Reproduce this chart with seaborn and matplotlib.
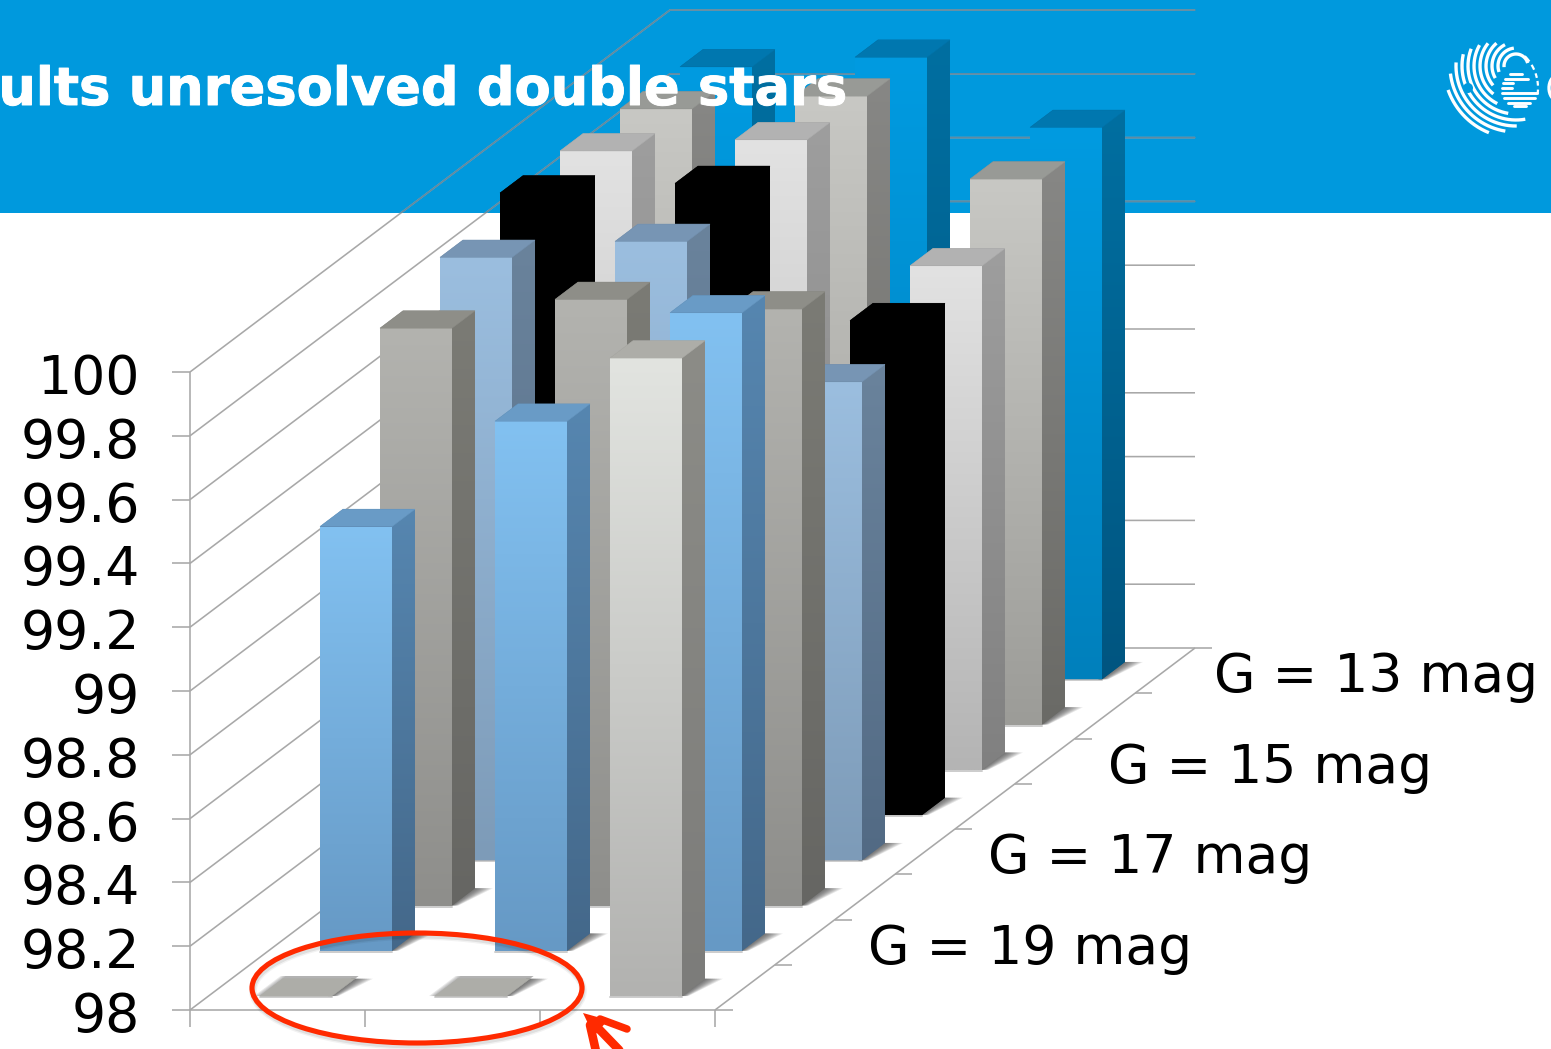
import numpy as np
import pandas as pd
import matplotlib
matplotlib.use("Agg")
import matplotlib.pyplot as plt
import matplotlib.patheffects as pe
from matplotlib.patches import Ellipse, Polygon, Rectangle
from matplotlib.colors import LinearSegmentedColormap
import seaborn as sns

# Completeness per magnitude (rows) and separation column, front row first
columns = ["a", "b", "c"]
row_names = ["19 grey", "19 blue", "17 grey", "17 blue", "15 black", "15 white", "13 grey", "13 blue"]
col_a = [98.00, 99.33, 99.81, 99.89, 99.95, 99.94, 99.93, 99.92]
col_b = [98.00, 99.66, 99.90, 99.94, 99.98, 99.975, 99.97, 99.95]
col_c = [100.0, 100.0, 99.87, 99.50, 99.55, 99.58, 99.71, 99.73]

value_ticks = [98, 98.2, 98.4, 98.6, 98.8, 99, 99.2, 99.4, 99.6, 99.8, 100]
value_labels = ["98", "98.2", "98.4", "98.6", "98.8", "99", "99.2", "99.4", "99.6", "99.8", "100"]
mag_labels = ["G = 19 mag", "G = 17 mag", "G = 15 mag", "G = 13 mag"]
mag_label_shift = [0, 0, 0, -14]
title = "ults unresolved double stars"

# Face colours per row: front top, front bottom, side top, side bottom, cap
row_colors = {
    "19 grey": ("#e2e4e0", "#b2b2b0", "#8c8c87", "#7c7c7a", "#adada8"),
    "19 blue": ("#82c1f1", "#6699c5", "#5686b0", "#44688a", "#699bc6"),
    "17 grey": ("#b3b3af", "#8e8e8b", "#7b7b75", "#666663", "#8e8e88"),
    "17 blue": ("#9bbedf", "#7d9bb8", "#6a839c", "#526a84", "#7795b4"),
    "15 black": ("#000000", "#000000", "#000000", "#000000", "#000000"),
    "15 white": ("#e2e2e2", "#b4b4b4", "#9e9e9e", "#808080", "#b2b2b2"),
    "13 grey": ("#c8c8c4", "#9c9c98", "#878785", "#6a6a66", "#989a96"),
    "13 blue": ("#009be1", "#0080bc", "#006fa1", "#005580", "#0077af"),
}

banner_blue = "#0099dd"
grid_grey = "#a8a8a8"
grid_on_banner = "#5f8ba3"
alert_red = "#ff2a00"

sns.set_theme(style="white")
plt.rcParams["font.family"] = ["DejaVu Sans"]

W, H = 1551, 1049
fig = plt.figure(figsize=(W / 100, H / 100), dpi=100)
ax = fig.add_axes([0, 0, 1, 1])

# One column is 175 px wide and one value unit is 319 px tall on the page;
# the axes limits put the floor corner of the chart at (190, 1010).
PX_COL, PX_VAL = 175.0, 319.0
ax.set_xlim(-190 / PX_COL, (W - 190) / PX_COL)
ax.set_ylim(98 - (H - 1010) / PX_VAL, 98 + 1010 / PX_VAL)
ax.axis("off")

# Oblique projection: each depth step shifts right and up
DX, DY = 60 / PX_COL, 45.25 / PX_VAL
BAR_W = 72 / PX_COL
CELL_PAD = (1 - BAR_W) / 2
DEPTH_PAD = 18.5 / 60
BAR_D = 23 / 60


def proj(col, depth, val):
    return col + depth * DX, val + depth * DY


def page(px, py):
    return (np.asarray(px) - 190) / PX_COL, 98 + (1010 - np.asarray(py)) / PX_VAL


def gradient_face(pts, top, bottom, z):
    poly = Polygon(pts, closed=True, facecolor="none", edgecolor="none", zorder=z)
    ax.add_patch(poly)
    cmap = LinearSegmentedColormap.from_list("f", sns.blend_palette([top, bottom], 8))
    xs, ys = zip(*pts)
    im = ax.imshow(np.linspace(0, 1, 256)[:, None], cmap=cmap, aspect="auto",
                   extent=(min(xs), max(xs), min(ys), max(ys)), origin="upper", zorder=z)
    im.set_clip_path(poly)


def contact_shadow(x0, x1, d0, d1, flat, z):
    # soft wedge on the floor to the right of the base, stacked thin layers
    grows = np.linspace(18, 2, 9) / PX_COL
    for g in grows:
        ax.add_patch(Polygon([proj(x1 - 0.02, d0, 98), proj(x1 + g * 0.35, d0, 98),
                              proj(x1 + g, d1, 98), proj(x1 - 0.02, d1, 98)],
                             facecolor="#333333", edgecolor="none", alpha=0.11, zorder=z))
    # thin dark seam under the front edge
    a = proj(x0, d0, 98 - 1 / PX_VAL)
    b = proj(x1, d0, 98 - 1 / PX_VAL)
    ax.plot([a[0], b[0]], [a[1], b[1]], color="#555555", alpha=0.3, lw=1.4, zorder=z)
    if flat:
        for g in np.linspace(6, 1, 4):
            ax.add_patch(Polygon([proj(x0 - g / PX_COL, d0, 98), proj(x1, d0, 98),
                                  proj(x1, d1 + 0.06, 98), proj(x0 - g / PX_COL, d1 + 0.06, 98)],
                                 facecolor="#444444", edgecolor="none", alpha=0.12, zorder=z))


def draw_bar(col, row, value, colors, z):
    x0 = col + CELL_PAD
    x1 = x0 + BAR_W
    d0 = row + DEPTH_PAD
    d1 = d0 + BAR_D
    front_top, front_bot, side_top, side_bot, cap = colors
    flat = value <= 98.001
    contact_shadow(x0, x1, d0, d1, flat, z - 0.2)
    if not flat:
        # full silhouette first so no background shows at the face seams
        ax.add_patch(Polygon([proj(x0, d0, value), proj(x0, d1, value), proj(x1, d1, value),
                              proj(x1, d1, 98), proj(x1, d0, 98), proj(x0, d0, 98)],
                             facecolor=side_bot, edgecolor="none", zorder=z))
        gradient_face([proj(x1, d0, value), proj(x1, d1, value), proj(x1, d1, 98), proj(x1, d0, 98)],
                      side_top, side_bot, z + 0.01)
        gradient_face([proj(x0, d0, value), proj(x1, d0, value), proj(x1, d0, 98), proj(x0, d0, 98)],
                      front_top, front_bot, z + 0.02)
    ax.add_patch(Polygon([proj(x0, d0, value), proj(x1, d0, value), proj(x1, d1, value), proj(x0, d1, value)],
                         facecolor=cap, edgecolor=cap, lw=0.4, zorder=z + 0.03))


# Page background: blue banner across the top
y_banner = 98 + (1010 - 213) / PX_VAL
banner = Rectangle((ax.get_xlim()[0], y_banner), W / PX_COL, 3, facecolor=banner_blue,
                   edgecolor="none", zorder=0)
ax.add_patch(banner)

# Value grid along the left wall and the back wall, plus floor edges
n_rows = len(row_names)
n_cols = len(columns)
line_kw = dict(color=grid_grey, lw=1.15, solid_capstyle="butt", zorder=1)
for v in value_ticks:
    pts = np.array([proj(0, 0, v), proj(0, n_rows, v), proj(n_cols, n_rows, v)])
    sns.lineplot(x=pts[:, 0], y=pts[:, 1], ax=ax, sort=False, estimator=None, legend=False, **line_kw)
    # the same rule reads darker where it crosses the banner
    over, = ax.plot(pts[:, 0], pts[:, 1], color=grid_on_banner, lw=1.15, zorder=1.1)
    over.set_clip_path(banner)
    ax.plot([-18 / PX_COL, 0], [v, v], **line_kw)
ax.plot([0, 0], [98, 100], **line_kw)

floor = np.array([proj(0, 0, 98), proj(n_cols + 18 / PX_COL, 0, 98)])
ax.plot(floor[:, 0], floor[:, 1], **line_kw)
side_edge = np.array([proj(n_cols, 0, 98), proj(n_cols, n_rows, 98)])
ax.plot(side_edge[:, 0], side_edge[:, 1], **line_kw)
for c in range(n_cols + 1):
    ax.plot([c, c], [98, 98 - 17 / PX_VAL], **line_kw)
for r in range(1, n_rows + 1):
    x, y = proj(n_cols, r, 98)
    ax.plot([x, x + 17 / PX_COL], [y, y], **line_kw)

# Bars, back row first so nearer bars cover farther ones
table = pd.DataFrame({"a": col_a, "b": col_b, "c": col_c}, index=row_names)
for r in range(n_rows - 1, -1, -1):
    colors = row_colors[row_names[r]]
    for c, name in enumerate(columns):
        draw_bar(c, r, table.iloc[r][name], colors, 3 + (n_rows - r) + c * 0.1)

# Axis labels
for v, lab in zip(value_ticks, value_labels):
    ax.text(-50 / PX_COL, v - 7 / PX_VAL, lab, ha="right", va="center", fontsize=38.7, color="#000000", zorder=20)

for i, lab in enumerate(mag_labels):
    x, y = proj(n_cols, 2 * i + 1, 98)
    ax.text(x + (93 + mag_label_shift[i]) / PX_COL, y + 16 / PX_VAL, lab, ha="left", va="center",
            fontsize=38.5, color="#000000", zorder=20)

# Title over the banner
tx, ty = page(847, 90)
ax.text(tx, ty, title, ha="right", va="center", fontsize=37.9, fontweight="bold", color="white", zorder=30,
        path_effects=[pe.withStroke(linewidth=0.7, foreground="white")])

# Agency roundel in the banner corner: arcs clipped to a disc, then the inner "e"
cx, cy, R = 1493.0, 88.0, 45.0
ecx, ecy = 1520.0, 89.0
theta = np.linspace(0, 2 * np.pi, 900)
for rad in np.arange(12, 90, 6.0):
    xs = 1516 + rad * np.cos(theta)
    ys = 66 + rad * np.sin(theta)
    keep = ((xs - cx) ** 2 + (ys - cy) ** 2 < R ** 2) & ((xs - ecx) ** 2 + (ys - ecy) ** 2 > 27 ** 2)
    px, py = page(np.where(keep, xs, np.nan), np.where(keep, ys, np.nan))
    ax.plot(px, py, color="white", lw=2.4, solid_capstyle="butt", zorder=30)
# small opening in the left of the disc
ax.add_patch(Ellipse(page(1468, 88), 10 / PX_COL, 10 / PX_VAL, facecolor=banner_blue, edgecolor="none", zorder=31))
# broken rim on the right
for a0, a1 in ((-45, -36), (-31, -24), (-19, -13), (-9, -3), (2, 8)):
    a = np.radians(np.linspace(a0, a1, 8))
    px, py = page(cx + R * np.cos(a), cy + R * np.sin(a))
    ax.plot(px, py, color="white", lw=1.6, solid_capstyle="butt", zorder=31)
# stripes of the "e"
for yy, left, right in ((74, 1510, 1522), (78.5, 1505, 1528), (83, 1503, 1513), (88, 1502, 1512),
                        (93, 1502, 1537), (98, 1504, 1535), (102.5, 1508, 1530), (106, 1514, 1526)):
    px, py = page([left, right], [yy, yy])
    ax.plot(px, py, color="white", lw=2.1, solid_capstyle="round", zorder=32)
# start of the agency wordmark at the page edge
a = np.radians(np.linspace(130, 230, 12))
px, py = page(1562 + 13 * np.cos(a), 88 + 15 * np.sin(a))
ax.plot(px, py, color="white", lw=2.4, zorder=32)

# Highlight ellipse and arrow around the two empty cells
ell_c = page(417, 988)
for grow, alpha in ((5.5, 0.05), (3.5, 0.08)):
    ax.add_patch(Ellipse((ell_c[0] + 1 / PX_COL, ell_c[1] - 3 / PX_VAL), 330 / PX_COL, 110 / PX_VAL,
                         facecolor="none", edgecolor="#000000", alpha=alpha, lw=grow, zorder=39))
ax.add_patch(Ellipse(ell_c, 330 / PX_COL, 110 / PX_VAL, facecolor="none", edgecolor=alert_red, lw=3.7, zorder=40))
tip = page(583, 1013)
ax.add_patch(Polygon([tip, page(608, 1020), page(594, 1036)], facecolor=alert_red, edgecolor="none", zorder=40))
for start, end, width in (((600, 1019), (627, 1029), 5.4), ((590, 1025), (598, 1060), 6.2), ((597, 1027), (625, 1056), 6.2)):
    a = page(*start)
    b = page(*end)
    ax.plot([a[0], b[0]], [a[1], b[1]], color=alert_red, lw=width, solid_capstyle="round", zorder=40)

fig.savefig("out.png", dpi=100)
